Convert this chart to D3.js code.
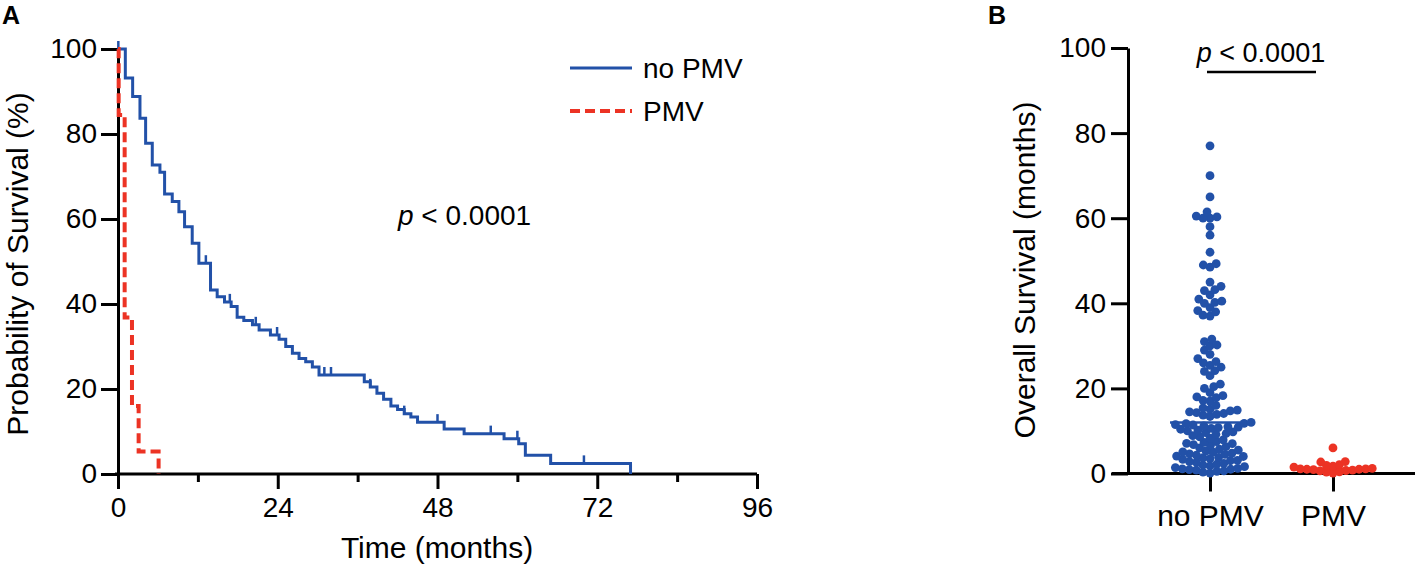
<!DOCTYPE html>
<html>
<head>
<meta charset="utf-8">
<script src="https://cdn.jsdelivr.net/npm/d3@7"></script>
<style>
  body { margin: 0; background: #fff; }
  svg text { font-family: "Liberation Sans", Arial, Helvetica, sans-serif; fill: #000; }
</style>
</head>
<body>
<svg id="chart" width="1417" height="578"></svg>
<script>
(function(){

	// ---- panel A: Kaplan-Meier steps (months, % surviving) ----
	const blueTimes = [0, 1.1, 2.2, 3.3, 4.15, 5.15, 6.3, 7.0, 8.15, 9.15, 10.0, 11.15, 12.15, 13.9, 14.9, 16.0, 17.0, 17.9, 18.9, 20.2, 21.2, 22.9, 24.2, 25.2, 26.2, 27.2, 28.2, 29.2, 30.2, 37.0, 37.9, 38.9, 39.9, 41.0, 42.0, 43.0, 44.0, 45.0, 49.0, 52.0, 58.0, 60.2, 61.2, 65.0, 77.0];
	const blueSurv  = [100, 93.2, 88.8, 83.7, 77.8, 72.7, 71.0, 65.9, 64.1, 61.7, 58.2, 54.3, 49.6, 43.3, 41.7, 40.5, 39.4, 36.9, 36.1, 35.1, 33.9, 32.7, 31.7, 30.0, 28.4, 27.2, 26.4, 25.2, 23.3, 21.7, 20.5, 19.0, 17.6, 16.0, 15.2, 14.2, 13.4, 12.2, 10.6, 9.5, 8.3, 7.1, 4.4, 2.5, 0];
	const blueCensored = [0.05, 13.2, 16.8, 20.7, 23.9, 31.0, 32.0, 37.9, 43.0, 48.0, 56.0, 60.0, 70.0];

	const redTimes = [0, 0.1, 1.0, 2.1, 3.1, 6.1];
	const redSurv  = [100, 84.5, 36.8, 16.0, 5.3, 0];

	const xTicksA = [0, 12, 24, 36, 48, 60, 72, 84, 96];
	const yTicks = [0, 20, 40, 60, 80, 100];

	// ---- panel B: overall survival per patient (months) ----
	const groups = ["no PMV", "PMV"];
	const noPmvMonths = [
		0.1, 0.3, 0.5, 0.6, 0.8, 0.9, 1, 1.1, 1.2,
		1.4, 1.6, 1.8, 2, 2.2, 2.4,
		2.6, 2.8, 3, 3.1, 3.3, 3.5,
		3.7, 3.8, 4, 4.1, 4.3, 4.5, 4.6,
		4.8, 5, 5.1, 5.3, 5.5, 5.7,
		6, 6.3,
		6.6, 6.8, 7, 7.1, 7.3, 7.5,
		7.9, 8.3,
		8.6, 8.9, 9.2,
		9.4, 9.6, 9.8, 10,
		10.2, 10.4, 10.6, 10.8, 10.9,
		11.0, 11.2, 11.4, 11.5, 11.7, 11.8, 12.0,
		13.4, 13.7, 13.9, 14.1, 14.3, 14.5, 14.7, 14.9,
		15.1, 15.4, 16, 17, 17.2, 17.8, 18, 18.3, 19, 20, 20.4, 21,
		23, 24, 24.2, 25, 25.4, 26, 26.3, 27, 28, 29, 30, 30.2, 31, 31.6,
		37, 37.2, 38, 38.3, 39, 40, 40.2, 40.5, 41, 42, 43, 43.2, 44, 45,
		48.5, 49, 49.3, 52, 56, 58, 60, 60, 60.3, 60.5, 61.5, 65, 70, 77
	];
	const pmvMonths = [0.1, 0.3, 0.4, 0.6, 0.7, 0.8, 0.9, 1, 1, 1.1, 1.1, 1.2, 1.5, 1.7, 1.9, 2.1, 2.7, 2.8, 6];

	const blue = "#2251a8";
	const red = "#ec3324";

	const svg = d3.select("#chart");

	function styleAxis(g) {
		g.selectAll("path").attr("stroke", "#000").attr("stroke-width", 3);
		g.selectAll(".tick line").attr("stroke", "#000").attr("stroke-width", 3);
		g.selectAll("text").attr("font-size", 28).attr("fill", "#000");
	}

	// ================= panel A =================
	const xA = d3.scaleLinear().domain([0, 96]).range([118, 757]);
	const yA = d3.scaleLinear().domain([0, 100]).range([474, 49]);

	const gxA = svg.append("g").attr("transform", "translate(0,474)")
		.call(d3.axisBottom(xA).tickValues(xTicksA).tickSize(15).tickSizeOuter(0).tickPadding(8)
			.tickFormat(d => d % 24 === 0 ? d : ""));
	styleAxis(gxA);
	gxA.selectAll(".tick line").filter(d => d % 24 !== 0).attr("y2", 8);
	gxA.select(".domain").attr("d", "M115,0H757");

	const gyA = svg.append("g").attr("transform", "translate(118,0)")
		.call(d3.axisLeft(yA).tickValues(yTicks).tickSize(17).tickSizeOuter(0).tickPadding(4));
	styleAxis(gyA);

	// step curves
	const kmLine = d3.line().curve(d3.curveStepAfter).x(d => xA(d[0])).y(d => yA(d[1]));
	const bluePts = blueTimes.map((t, i) => [t, blueSurv[i]]);
	const redPts = redTimes.map((t, i) => [t, redSurv[i]]);

	svg.append("path").attr("d", kmLine(bluePts))
		.attr("fill", "none").attr("stroke", blue).attr("stroke-width", 3);

	// censor marks on the blue curve
	function survAt(t) {
		let s = 100;
		for (let i = 0; i < blueTimes.length; i++) { if (blueTimes[i] <= t) s = blueSurv[i]; }
		return s;
	}
	svg.append("g").selectAll("line").data(blueCensored).enter().append("line")
		.attr("x1", d => xA(d)).attr("x2", d => xA(d))
		.attr("y1", d => yA(survAt(d))).attr("y2", d => yA(survAt(d)) - 8)
		.attr("stroke", blue).attr("stroke-width", 2.5);

	svg.append("path").attr("d", kmLine(redPts))
		.attr("fill", "none").attr("stroke", red).attr("stroke-width", 4)
		.attr("stroke-dasharray", "10,5");

	// legend
	const legend = svg.append("g");
	legend.append("line").attr("x1", 570).attr("x2", 632).attr("y1", 68).attr("y2", 68)
		.attr("stroke", blue).attr("stroke-width", 3);
	legend.append("text").attr("x", 643).attr("y", 78).attr("font-size", 28).text("no PMV");
	legend.append("line").attr("x1", 570).attr("x2", 632).attr("y1", 111).attr("y2", 111)
		.attr("stroke", red).attr("stroke-width", 4).attr("stroke-dasharray", "10,5");
	legend.append("text").attr("x", 643).attr("y", 121).attr("font-size", 28).text("PMV");

	const pA = svg.append("text").attr("x", 398).attr("y", 225).attr("font-size", 28);
	pA.append("tspan").attr("font-style", "italic").text("p");
	pA.append("tspan").text(" < 0.0001");

	svg.append("text").attr("x", 437).attr("y", 558).attr("text-anchor", "middle")
		.attr("font-size", 30).text("Time (months)");
	svg.append("text").attr("transform", "translate(28,264) rotate(-90)")
		.attr("text-anchor", "middle").attr("font-size", 30).text("Probability of Survival (%)");

	svg.append("text").attr("x", 2).attr("y", 24).attr("font-size", 25).attr("font-weight", "bold").text("A");

	// ================= panel B =================
	const xB = d3.scalePoint().domain(groups).range([1128, 1415]).padding(0.667);
	const yB = d3.scaleLinear().domain([0, 100]).range([473.5, 48]);

	const gyB = svg.append("g").attr("transform", "translate(1128,0)")
		.call(d3.axisLeft(yB).tickValues(yTicks).tickSize(17).tickSizeOuter(0).tickPadding(5));
	styleAxis(gyB);

	const gxB = svg.append("g").attr("transform", "translate(0,473.5)")
		.call(d3.axisBottom(xB).tickSize(18).tickSizeOuter(0).tickPadding(13));
	styleAxis(gxB);
	gxB.selectAll("text").attr("font-size", 30);
	gxB.select(".domain").attr("d", "M1112,0H1415");

	// simple beeswarm: each point takes the free spot closest to the group centre
	const dotR = 4.4;
	function swarm(values, cx, squeeze) {
		const placed = [];
		const minD = dotR * 2 * squeeze;
		values.slice().sort((a, b) => a - b).forEach(v => {
			const y = yB(v);
			const near = placed.filter(p => Math.abs(p.y - y) < minD);
			const cands = [0];
			near.forEach(p => {
				const dx = Math.sqrt(minD * minD - (p.y - y) * (p.y - y));
				cands.push(p.dx + dx, p.dx - dx);
			});
			cands.sort((a, b) => Math.abs(a) - Math.abs(b) || a - b);
			let best = 0;
			for (const c of cands) {
				const ok = near.every(p => (p.dx - c) * (p.dx - c) + (p.y - y) * (p.y - y) >= minD * minD - 0.01);
				if (ok) { best = c; break; }
			}
			placed.push({ v: v, y: y, dx: best, x: cx + best });
		});
		return placed;
	}

	const sets = [
		{ name: "no PMV", values: noPmvMonths, color: blue, squeeze: 0.8 },
		{ name: "PMV", values: pmvMonths, color: red, squeeze: 0.75 }
	];

	sets.forEach(s => {
		const cx = xB(s.name);
		const med = d3.median(s.values);
		svg.append("line").attr("x1", cx - 40).attr("x2", cx + 40)
			.attr("y1", yB(med)).attr("y2", yB(med))
			.attr("stroke", s.color).attr("stroke-width", 2.5);
		svg.append("g").selectAll("circle").data(swarm(s.values, cx, s.squeeze)).enter().append("circle")
			.attr("cx", d => d.x).attr("cy", d => d.y).attr("r", dotR)
			.attr("fill", s.color);
	});

	const pB = svg.append("text").attr("x", 1261).attr("y", 62).attr("text-anchor", "middle").attr("font-size", 27);
	pB.append("tspan").attr("font-style", "italic").text("p");
	pB.append("tspan").text(" < 0.0001");
	svg.append("line").attr("x1", 1207).attr("x2", 1316).attr("y1", 72).attr("y2", 72)
		.attr("stroke", "#000").attr("stroke-width", 2.5);

	svg.append("text").attr("transform", "translate(1035,270) rotate(-90)")
		.attr("text-anchor", "middle").attr("font-size", 30).text("Overall Survival (months)");

	svg.append("text").attr("x", 988).attr("y", 24).attr("font-size", 25).attr("font-weight", "bold").text("B");

}());
</script>
</body>
</html>
